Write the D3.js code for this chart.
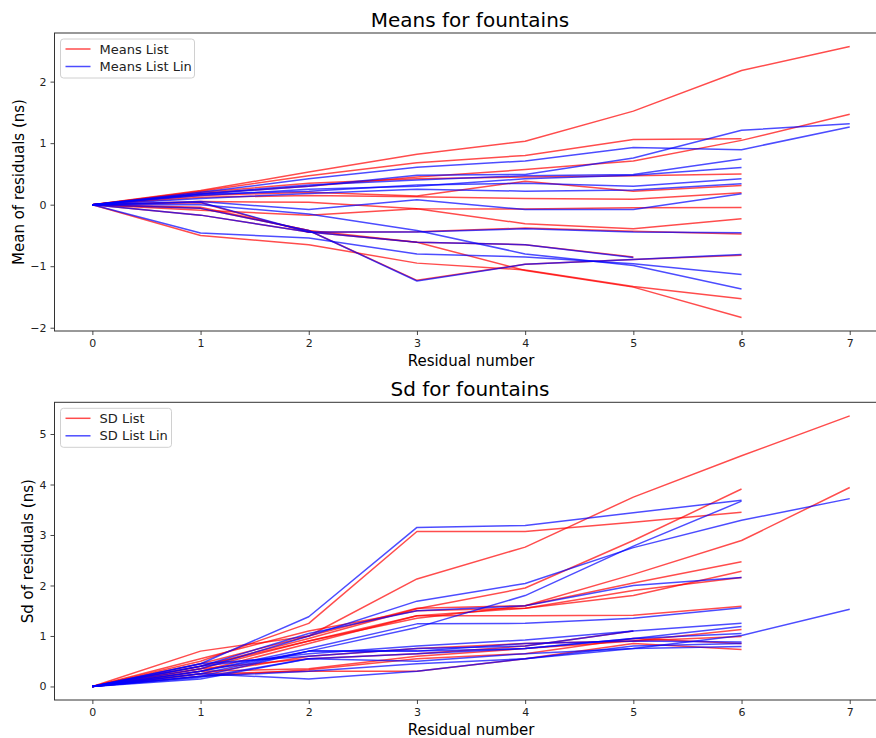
<!DOCTYPE html>
<html>
<head>
<meta charset="utf-8">
<script src="https://cdn.jsdelivr.net/npm/d3@7"></script>
<style>
  html, body { margin: 0; padding: 0; background: #fff; }
  svg { display: block; font-family: "DejaVu Sans", sans-serif; }
</style>
</head>
<body>
<svg id="chart" width="876" height="738"></svg>
<script>
// Residual index along the x axis
const residualNumbers = [0, 1, 2, 3, 4, 5, 6, 7];

// Mean of residuals per fountain (ns), plain fit
const meansList = [
  [0, 0.23, 0.53, 0.82, 1.03, 1.52, 2.18, 2.57],
  [0, 0.22, 0.47, 0.68, 0.80, 1.06, 1.07],
  [0, 0.18, 0.30, 0.45, 0.57, 0.71, 1.045, 1.47],
  [0, 0.20, 0.35, 0.42, 0.45, 0.47, 0.50],
  [0, 0.15, 0.20, 0.14, 0.38, 0.22, 0.31],
  [0, 0.12, 0.15, 0.13, 0.10, 0.09, 0.195],
  [0, 0.05, 0.04, -0.065, -0.07, -0.05, -0.044],
  [0, -0.09, -0.17, -0.065, -0.31, -0.39, -0.23],
  [0, 0.03, -0.45, -0.44, -0.38, -0.43, -0.478],
  [0, -0.17, -0.445, -0.61, -0.65, -0.85],
  [0, -0.06, -0.42, -1.23, -0.97, -0.89, -0.824],
  [0, -0.50, -0.65, -0.95, -1.06, -1.33, -1.53],
  [0, -0.04, -0.42, -0.61, -1.07, -1.34, -1.833]
];

// Mean of residuals per fountain (ns), linear fit
const meansListLin = [
  [0, 0.20, 0.42, 0.61, 0.71, 0.93, 0.894, 1.262],
  [0, 0.17, 0.30, 0.48, 0.49, 0.76, 1.208, 1.315],
  [0, 0.18, 0.32, 0.40, 0.47, 0.49, 0.742],
  [0, 0.15, 0.25, 0.30, 0.42, 0.48, 0.606],
  [0, 0.17, 0.22, 0.32, 0.35, 0.30, 0.423],
  [0, 0.10, 0.18, 0.25, 0.22, 0.24, 0.341],
  [0, 0.05, -0.08, 0.08, -0.08, -0.08, 0.179],
  [0, 0.04, -0.445, -0.445, -0.39, -0.445, -0.455],
  [0, -0.17, -0.445, -0.61, -0.65, -0.86],
  [0, -0.06, -0.42, -1.24, -0.97, -0.89, -0.808],
  [0, -0.46, -0.54, -0.80, -0.85, -0.96, -1.133],
  [0, 0.00, -0.15, -0.42, -0.80, -0.99, -1.372]
];

// Standard deviation of residuals per fountain (ns), plain fit
const sdList = [
  [0, 0.45, 1.00, 2.13, 2.76, 3.75, 4.57, 5.36],
  [0, 0.50, 1.25, 3.07, 3.07, 3.25, 3.45],
  [0, 0.40, 0.95, 1.54, 1.95, 2.89, 3.91],
  [0, 0.35, 0.90, 1.35, 1.60, 2.22, 2.89, 3.94],
  [0, 0.70, 1.00, 1.55, 1.60, 2.05, 2.47],
  [0, 0.55, 1.10, 1.50, 1.55, 1.80, 2.28],
  [0, 0.30, 0.85, 1.40, 1.55, 1.90, 2.16],
  [0, 0.40, 0.90, 1.40, 1.40, 1.41, 1.59],
  [0, 0.25, 0.60, 0.75, 0.85, 0.90, 1.13],
  [0, 0.30, 0.35, 0.60, 0.75, 0.90, 0.99],
  [0, 0.20, 0.33, 0.55, 0.65, 0.95, 0.85],
  [0, 0.25, 0.30, 0.30, 0.55, 0.85, 0.73],
  [0, 0.35, 0.55, 0.65, 0.80, 1.10]
];

// Standard deviation of residuals per fountain (ns), linear fit
const sdListLin = [
  [0, 0.45, 1.38, 3.15, 3.19, 3.44, 3.69],
  [0, 0.35, 1.00, 1.69, 2.04, 2.75, 3.29, 3.72],
  [0, 0.30, 0.70, 1.17, 1.80, 2.78, 3.67],
  [0, 0.40, 1.05, 1.50, 1.60, 2.00, 2.16],
  [0, 0.30, 0.75, 1.24, 1.25, 1.35, 1.56],
  [0, 0.40, 0.65, 0.80, 0.92, 1.10, 1.25],
  [0, 0.20, 0.70, 0.70, 0.75, 0.95, 1.19],
  [0, 0.15, 0.55, 0.50, 0.65, 0.75, 1.01, 1.53],
  [0, 0.25, 0.70, 0.70, 0.85, 0.90, 0.88],
  [0, 0.20, 0.30, 0.45, 0.55, 0.75, 0.79],
  [0, 0.25, 0.15, 0.30, 0.55, 0.80, 0.85],
  [0, 0.45, 0.60, 0.75, 0.80, 1.10],
  [0, 0.18, 0.55, 0.65, 0.75, 0.95, 1.05]
];

const topYTicks = [-2, -1, 0, 1, 2];
const bottomYTicks = [0, 1, 2, 3, 4, 5];

const RED = "#ff0000";
const BLUE = "#0000ff";
const ALPHA = 0.7;

const svg = d3.select("#chart");
svg.append("rect").attr("width", 876).attr("height", 738).attr("fill", "#fff");

function padded(lo, hi) {
  const m = (hi - lo) * 0.05;
  return [lo - m, hi + m];
}

function drawPanel(cfg) {
  const { top, bottom, left, right, seriesA, seriesB, yTicks, title, ylabel, ylabelX, names, legend } = cfg;
  const all = seriesA.concat(seriesB).flat();
  const x = d3.scaleLinear().domain(padded(0, d3.max(residualNumbers))).range([left, right]);
  const y = d3.scaleLinear().domain(padded(d3.min(all), d3.max(all))).range([bottom, top]);

  const g = svg.append("g");
  const clipId = "clip" + Math.round(top);
  g.append("clipPath").attr("id", clipId)
    .append("rect").attr("x", left).attr("y", top).attr("width", right - left).attr("height", bottom - top);

  const line = d3.line().x((d, i) => x(residualNumbers[i])).y(d => y(d));
  const lines = g.append("g").attr("clip-path", `url(#${clipId})`);
  // plain-fit series first, linear-fit series drawn over them
  [[seriesA, RED], [seriesB, BLUE]].forEach(([series, colour]) => {
    lines.selectAll(null).data(series).enter().append("path")
      .attr("d", line)
      .attr("fill", "none").attr("stroke", colour).attr("stroke-opacity", ALPHA)
      .attr("stroke-width", 1.5).attr("stroke-linejoin", "round");
  });

  const fmt = d => (d < 0 ? "\u2212" + Math.abs(d) : String(d));
  const xAxis = g.append("g").attr("transform", `translate(0,${bottom})`)
    .call(d3.axisBottom(x).tickValues(residualNumbers).tickFormat(fmt).tickSize(4).tickPadding(4));
  const yAxis = g.append("g").attr("transform", `translate(${left},0)`)
    .call(d3.axisLeft(y).tickValues(yTicks).tickFormat(fmt).tickSize(4).tickPadding(4));
  [xAxis, yAxis].forEach(a => {
    a.select(".domain").remove();
    a.selectAll("line").attr("stroke", "#333").attr("stroke-width", 0.9);
    a.selectAll("text").attr("font-size", 11).attr("fill", "#222").attr("font-family", "DejaVu Sans");
  });

  // frame
  g.append("rect").attr("x", left).attr("y", top).attr("width", right - left).attr("height", bottom - top)
    .attr("fill", "none").attr("stroke", "#333").attr("stroke-width", 1);

  svg.append("text").attr("x", 470).attr("y", top - 6).attr("text-anchor", "middle")
    .attr("font-size", 20).attr("fill", "#000").text(title);
  svg.append("text").attr("x", 471).attr("y", bottom + 35).attr("text-anchor", "middle")
    .attr("font-size", 15).attr("fill", "#000").text("Residual number");
  svg.append("text").attr("transform", `translate(${ylabelX},${(top + bottom) / 2}) rotate(-90)`)
    .attr("text-anchor", "middle").attr("font-size", 15).attr("fill", "#000").text(ylabel);

  // legend
  const lg = svg.append("g").attr("transform", `translate(${left + 6},${top + 6})`);
  lg.append("rect").attr("width", legend.w).attr("height", 39).attr("rx", 3)
    .attr("fill", "#fff").attr("fill-opacity", 0.8).attr("stroke", "#d0d0d0");
  [[names[0], RED], [names[1], BLUE]].forEach(([label, c], i) => {
    const yy = 10 + i * 17.5;
    lg.append("line").attr("x1", 5).attr("x2", 30).attr("y1", yy).attr("y2", yy)
      .attr("stroke", c).attr("stroke-opacity", ALPHA).attr("stroke-width", 1.5);
    lg.append("text").attr("x", 39).attr("y", yy + 4.5).attr("font-size", 13).attr("fill", "#222").text(label);
  });
}

drawPanel({
  top: 33, bottom: 331, left: 54.5, right: 887.6,
  seriesA: meansList, seriesB: meansListLin, yTicks: topYTicks,
  title: "Means for fountains", ylabel: "Mean of residuals (ns)", ylabelX: 24,
  names: ["Means List", "Means List Lin"], legend: { w: 134 }
});

drawPanel({
  top: 402.3, bottom: 700, left: 54.5, right: 887.6,
  seriesA: sdList, seriesB: sdListLin, yTicks: bottomYTicks,
  title: "Sd for fountains", ylabel: "Sd of residuals (ns)", ylabelX: 33,
  names: ["SD List", "SD List Lin"], legend: { w: 111 }
});
</script>
</body>
</html>
